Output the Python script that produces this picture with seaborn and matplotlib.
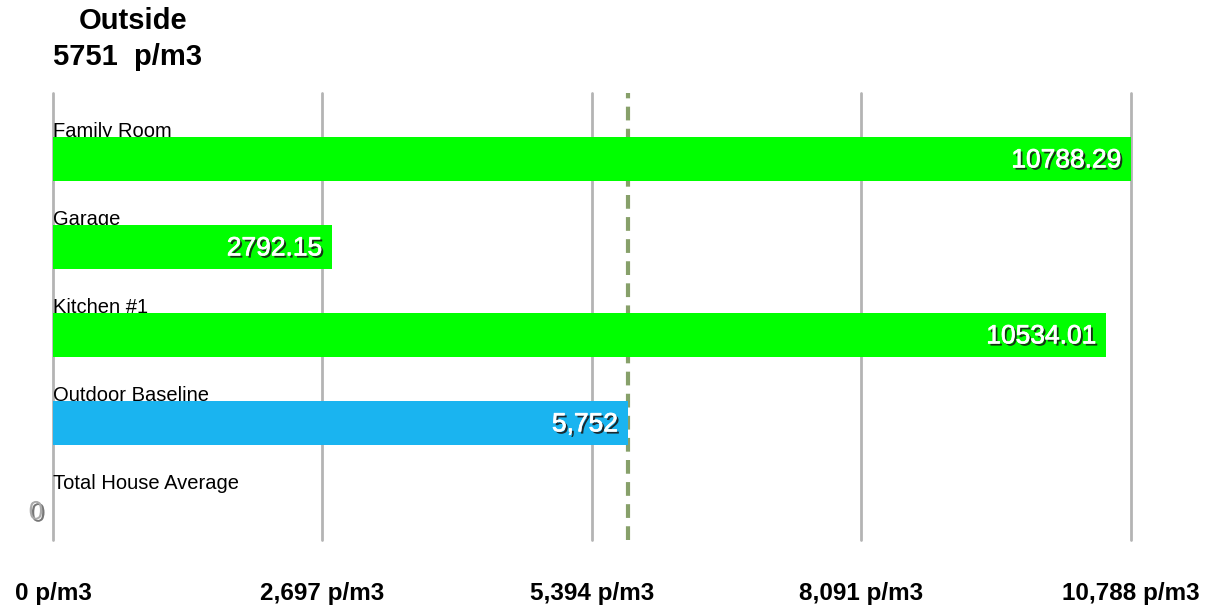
import matplotlib
matplotlib.use('Agg')
import matplotlib.pyplot as plt
import matplotlib.patheffects as pe
import seaborn as sns
import pandas as pd

# data
rooms = ['Family Room', 'Garage', 'Kitchen #1', 'Outdoor Baseline', 'Total House Average']
values = [10788.29, 2792.15, 10534.01, 5752, 0]
value_labels = ['10788.29', '2792.15', '10534.01', '5,752', '0']
bar_colors = ['#00ff00', '#00ff00', '#00ff00', '#1ab4f0', '#00ff00']
outside_value = 5751
tick_values = [0, 2697, 5394, 8091, 10788]
tick_labels = ['0 p/m3', '2,697 p/m3', '5,394 p/m3', '8,091 p/m3', '10,788 p/m3']

sns.set_style('white')
plt.rcParams['font.family'] = ['Liberation Sans', 'DejaVu Sans']
plt.rcParams['text.color'] = 'black'
plt.rcParams['xtick.color'] = 'black'

df = pd.DataFrame({'room': rooms, 'value': values})

fig = plt.figure(figsize=(12.2, 6.09), dpi=100)
ax = fig.add_axes([53 / 1220, 1 - 540 / 609, (1131 - 53) / 1220, (540 - 93) / 609])

sns.barplot(data=df, x='value', y='room', hue='room', palette=bar_colors,
            orient='h', width=0.5, legend=False, ax=ax, saturation=1,
            linewidth=0)
for p in ax.patches:
    p.set_zorder(5)
    p.set_alpha(1)

ax.set_xlim(0, max(values))
ax.set_ylim(4.33, -0.75)
ax.set_xticks(tick_values)
ax.set_xticklabels(tick_labels, fontsize=17.5, fontweight='bold')
ax.tick_params(axis='x', length=0, pad=30)
ax.set_yticks([])
ax.set_xlabel('')
ax.set_ylabel('')
ax.grid(False)
for s in ax.spines.values():
    s.set_visible(False)

# vertical grid lines behind the bars
for t in tick_values:
    ax.axvline(t, color='#b4b4b4', linewidth=2, zorder=1, clip_on=False)

# outside reference line, also behind the bars
ax.axvline(outside_value, color='#87a06a', linewidth=3, linestyle=(0, (3.3, 2)), zorder=2)

# room names just above each bar, partly hidden by the bar
for i, name in enumerate(rooms):
    ax.text(0, i - 0.25, name, fontsize=14.5, ha='left', va='baseline', zorder=3)

shadow = [pe.SimplePatchShadow(offset=(1.6, -1.6), shadow_rgbFace='#1a1a1a', alpha=0.9),
          pe.Stroke(linewidth=0.5, foreground='white'), pe.Normal()]
for i, (v, lab) in enumerate(zip(values, value_labels)):
    col = 'white' if v > 0 else '#aaaaaa'
    fg = shadow if v > 0 else [pe.SimplePatchShadow(offset=(1.6, -1.6), shadow_rgbFace='#555555', alpha=0.8), pe.Normal()]
    ax.annotate(lab, xy=(v, i), xytext=(-7, -1), textcoords='offset points',
                ha='right', va='center', fontsize=19, color=col, zorder=6,
                path_effects=fg, annotation_clip=False)

fig.text(133 / 1220, 1 - 21 / 609, 'Outside', fontsize=21, fontweight='bold', ha='center', va='center')
fig.text(53 / 1220, 1 - 57 / 609, '%d  p/m3' % outside_value, fontsize=21, fontweight='bold', ha='left', va='center')

fig.savefig('out.png', dpi=100)
